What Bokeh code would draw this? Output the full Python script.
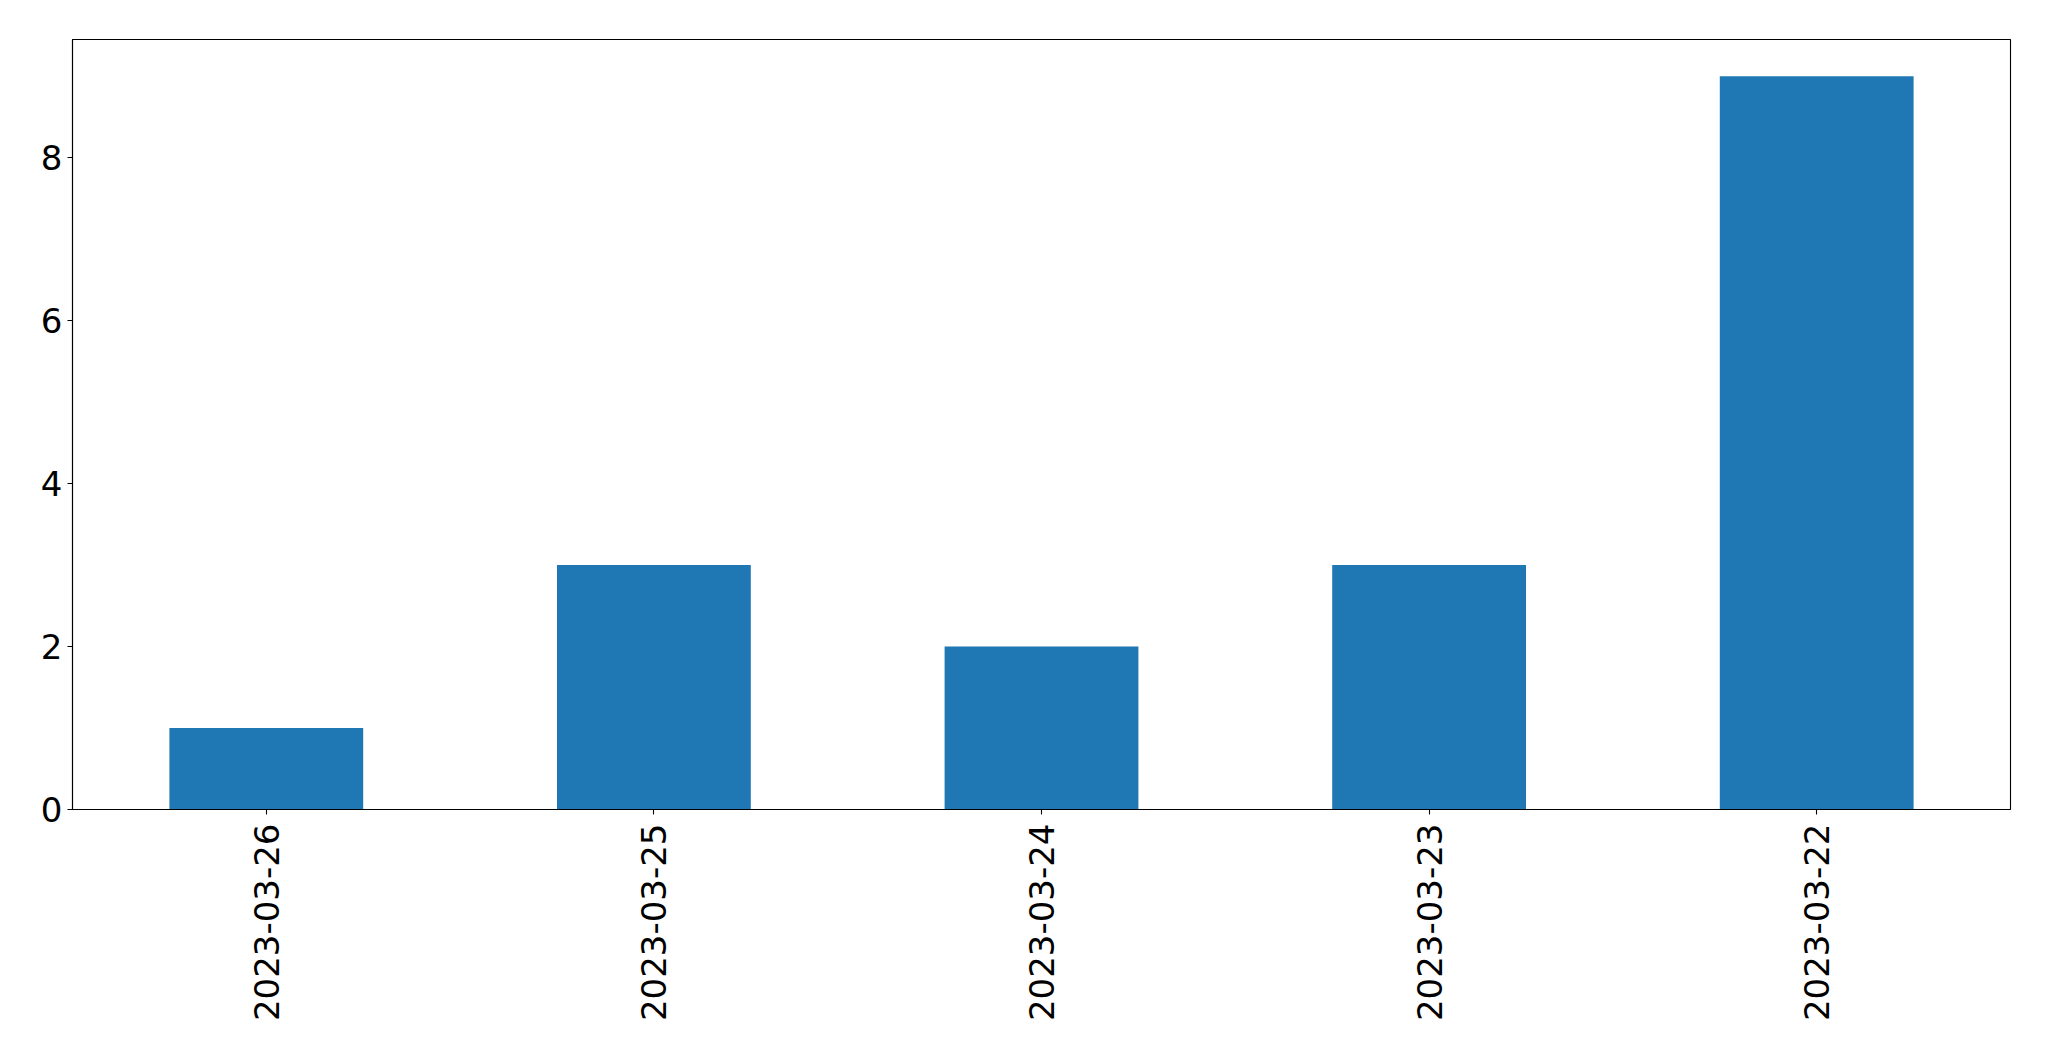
import math
from bokeh.plotting import figure
from bokeh.models import FactorRange, Range1d, FixedTicker, ColumnDataSource
from bokeh.embed import file_html
from bokeh.resources import INLINE

dates = ["2023-03-26", "2023-03-25", "2023-03-24", "2023-03-23", "2023-03-22"]
counts = [1, 3, 2, 3, 9]
y_ticks = [0, 2, 4, 6, 8]

source = ColumnDataSource(dict(dates=dates, counts=counts))

W, H = 2033, 1045
p = figure(
    width=W, height=H,
    x_range=FactorRange(factors=dates, range_padding=0),
    y_range=Range1d(0, max(counts) * 1.05),
    output_backend="svg", toolbar_location=None,
    min_border_left=72, min_border_top=39, min_border_right=W - 2010,
    min_border_bottom=H - 809,
)
p.vbar(x="dates", top="counts", width=0.5, source=source,
       fill_color="#1f77b4", line_color=None)

p.xgrid.visible = False
p.ygrid.visible = False
p.outline_line_color = "black"
p.outline_line_width = 1.1
p.background_fill_color = "white"
p.border_fill_color = "white"

p.yaxis.ticker = FixedTicker(ticks=y_ticks)
for ax in (p.xaxis[0], p.yaxis[0]):
    ax.axis_line_color = "black"
    ax.axis_line_width = 1.1
    ax.major_tick_line_color = "black"
    ax.major_tick_line_width = 1.1
    ax.major_tick_out = 5
    ax.major_tick_in = 0
    ax.minor_tick_line_color = None
    ax.major_label_text_font = "DejaVu Sans"
    ax.major_label_text_font_size = "34px"
    ax.major_label_text_color = "black"

p.yaxis.major_label_standoff = 5
p.xaxis.major_label_standoff = 9
p.xaxis.major_label_orientation = math.pi / 2

open("out.html", "w").write(file_html(p, INLINE))
